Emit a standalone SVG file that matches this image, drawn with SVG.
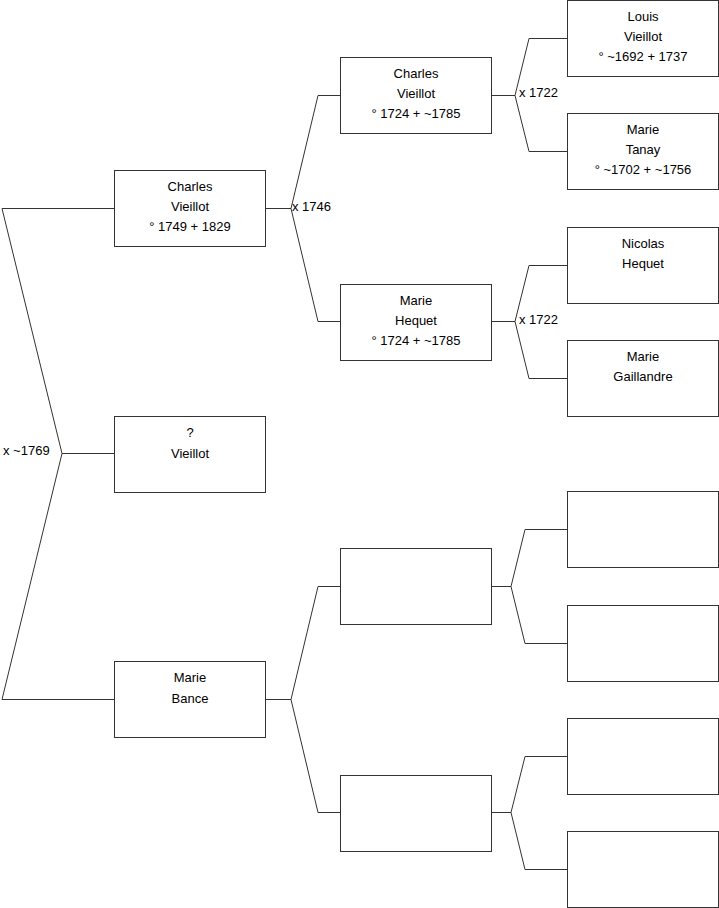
<svg xmlns="http://www.w3.org/2000/svg" width="719" height="908" viewBox="0 0 719 908">
<style>
.box{fill:#fff;stroke:#333;stroke-width:1}
.ln{fill:none;stroke:#333;stroke-width:1}
text{font-family:"Liberation Sans",Arial,sans-serif;font-size:13px;fill:#000}
.c{text-anchor:middle}
</style>
<rect width="719" height="908" fill="#fff"/>
<g id="connectors">
<polyline class="ln" points="114,208.5 2,208.5 62,453.5 2,699.5 114,699.5"/>
<line class="ln" x1="62" y1="453.5" x2="114" y2="453.5"/>
<polyline class="ln" points="265,208.5 291,208.5"/>
<polyline class="ln" points="340,95.5 318,95.5 291,208.5 318,321.5 340,321.5"/>
<polyline class="ln" points="265,699.5 291,699.5"/>
<polyline class="ln" points="340,586.5 318,586.5 291,699.5 318,812.5 340,812.5"/>
<polyline class="ln" points="491,95.5 515,95.5"/>
<polyline class="ln" points="567,38.5 529,38.5 515,95.5 529,151.5 567,151.5"/>
<polyline class="ln" points="491,321.5 515,321.5"/>
<polyline class="ln" points="567,265.5 529,265.5 515,321.5 529,378.5 567,378.5"/>
<polyline class="ln" points="491,586.5 511,586.5"/>
<polyline class="ln" points="567,529.5 525,529.5 511,586.5 525,643.5 567,643.5"/>
<polyline class="ln" points="491,812.5 511,812.5"/>
<polyline class="ln" points="567,756.5 525,756.5 511,812.5 525,869.5 567,869.5"/>
<text x="3" y="455">x ~1769</text>
<text x="292" y="211">x 1746</text>
<text x="519" y="97">x 1722</text>
<text x="519" y="324">x 1722</text>
</g>
<g id="n_charles_1749">
<rect class="box" x="114.5" y="170.5" width="151" height="76"/>
<text class="c" x="190" y="191">Charles</text>
<text class="c" x="190" y="211">Vieillot</text>
<text class="c" x="190" y="231">° 1749 + 1829</text>
</g>
<g id="n_unknown_vieillot">
<rect class="box" x="114.5" y="416.5" width="151" height="76"/>
<text class="c" x="190" y="437">?</text>
<text class="c" x="190" y="458">Vieillot</text>
</g>
<g id="n_marie_bance">
<rect class="box" x="114.5" y="661.5" width="151" height="76"/>
<text class="c" x="190" y="682">Marie</text>
<text class="c" x="190" y="703">Bance</text>
</g>
<g id="n_charles_1724">
<rect class="box" x="340.5" y="57.5" width="151" height="76"/>
<text class="c" x="416" y="78">Charles</text>
<text class="c" x="416" y="98">Vieillot</text>
<text class="c" x="416" y="118">° 1724 + ~1785</text>
</g>
<g id="n_marie_hequet">
<rect class="box" x="340.5" y="284.5" width="151" height="76"/>
<text class="c" x="416" y="305">Marie</text>
<text class="c" x="416" y="325">Hequet</text>
<text class="c" x="416" y="345">° 1724 + ~1785</text>
</g>
<g id="n_blank_2a">
<rect class="box" x="340.5" y="548.5" width="151" height="76"/>
</g>
<g id="n_blank_2b">
<rect class="box" x="340.5" y="775.5" width="151" height="76"/>
</g>
<g id="n_louis">
<rect class="box" x="567.5" y="0.5" width="151" height="76"/>
<text class="c" x="643" y="21">Louis</text>
<text class="c" x="643" y="41">Vieillot</text>
<text class="c" x="643" y="61">° ~1692 + 1737</text>
</g>
<g id="n_marie_tanay">
<rect class="box" x="567.5" y="113.5" width="151" height="76"/>
<text class="c" x="643" y="134">Marie</text>
<text class="c" x="643" y="154">Tanay</text>
<text class="c" x="643" y="174">° ~1702 + ~1756</text>
</g>
<g id="n_nicolas">
<rect class="box" x="567.5" y="227.5" width="151" height="76"/>
<text class="c" x="643" y="248">Nicolas</text>
<text class="c" x="643" y="268">Hequet</text>
</g>
<g id="n_gaillandre">
<rect class="box" x="567.5" y="340.5" width="151" height="76"/>
<text class="c" x="643" y="361">Marie</text>
<text class="c" x="643" y="381">Gaillandre</text>
</g>
<g id="n_blank_3a"><rect class="box" x="567.5" y="491.5" width="151" height="76"/></g>
<g id="n_blank_3b"><rect class="box" x="567.5" y="605.5" width="151" height="76"/></g>
<g id="n_blank_3c"><rect class="box" x="567.5" y="718.5" width="151" height="76"/></g>
<g id="n_blank_3d"><rect class="box" x="567.5" y="831.5" width="151" height="76"/></g>
</svg>
